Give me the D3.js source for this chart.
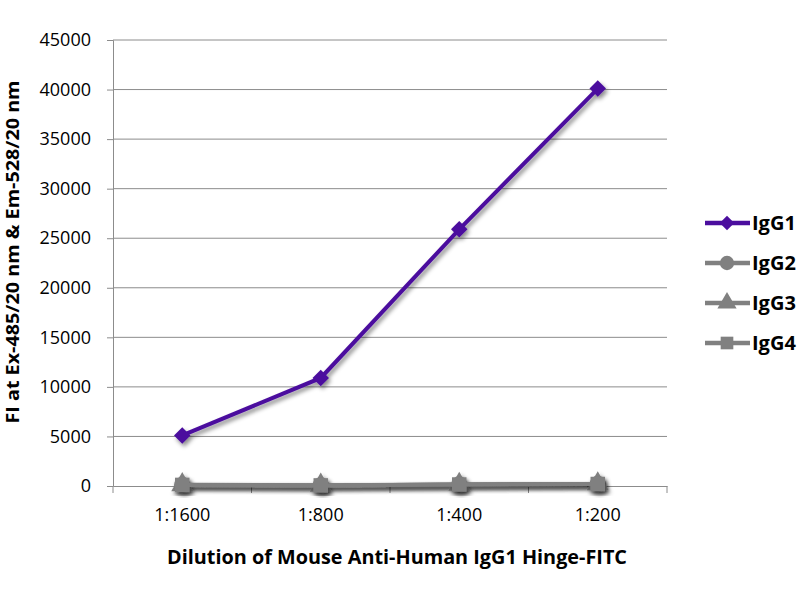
<!DOCTYPE html>
<html lang="en">
<head>
<meta charset="UTF-8">
<title>IgG1 Hinge-FITC dilution</title>
<script src="https://d3js.org/d3.v7.min.js"></script>
<style>
    body { margin: 0; background: #fff; }
    svg { font-family: "Open Sans", "DejaVu Sans", sans-serif; }
</style>
</head>
<body>
<svg width="800" height="600"></svg>
<script>
const dilutions = ["1:1600", "1:800", "1:400", "1:200"];
const igg1 = [5100, 10900, 25900, 40100];
const igg2 = [100, 60, 150, 200];
const igg3 = [120, 70, 160, 210];
const igg4 = [110, 60, 150, 200];
const yTicks = [0, 5000, 10000, 15000, 20000, 25000, 30000, 35000, 40000, 45000];

const series = [
    { name: "IgG1", values: igg1, color: "#4b0e9e", shape: "diamond" },
    { name: "IgG2", values: igg2, color: "#808080", shape: "circle" },
    { name: "IgG3", values: igg3, color: "#808080", shape: "triangle" },
    { name: "IgG4", values: igg4, color: "#808080", shape: "square" }
];

const svg = d3.select("svg");
const plotLeft = 113, plotRight = 667, plotTop = 40, plotBottom = 486;

const x = d3.scaleBand().domain(dilutions).range([plotLeft, plotRight]);
const y = d3.scaleLinear().domain([0, 45000]).range([plotBottom, plotTop]);

// soft drop shadow like the original
const defs = svg.append("defs");
const f = defs.append("filter").attr("id", "shadow")
    .attr("x", "-20%").attr("y", "-20%").attr("width", "140%").attr("height", "140%");
f.append("feDropShadow").attr("dx", 2).attr("dy", 3).attr("stdDeviation", 2)
    .attr("flood-color", "#000").attr("flood-opacity", 0.45);

// gridlines
svg.append("g")
    .selectAll("line")
    .data(yTicks.slice(1))
    .join("line")
        .attr("x1", plotLeft).attr("x2", plotRight)
        .attr("y1", d => y(d)).attr("y2", d => y(d))
        .attr("stroke", "#8c8c8c").attr("stroke-width", 1);

// y axis
const yAxis = svg.append("g")
    .attr("transform", `translate(${plotLeft},0)`)
    .call(d3.axisLeft(y).tickValues(yTicks).tickSize(6).tickPadding(16).tickFormat(d3.format("d")));
yAxis.select(".domain").attr("stroke", "#8c8c8c");
yAxis.selectAll(".tick line").attr("stroke", "#8c8c8c");
yAxis.selectAll(".tick text").attr("font-size", 18).attr("fill", "#000")
    .attr("font-family", "Open Sans, DejaVu Sans, sans-serif");

// x axis
const xAxis = svg.append("g")
    .attr("transform", `translate(0,${plotBottom})`)
    .call(d3.axisBottom(x).tickSize(0).tickPadding(22));
xAxis.select(".domain").attr("stroke", "#8c8c8c");
xAxis.selectAll(".tick text").attr("font-size", 18).attr("fill", "#000")
    .attr("font-family", "Open Sans, DejaVu Sans, sans-serif");
svg.append("g")
    .selectAll("line")
    .data([...dilutions.map(d => x(d)), plotRight])
    .join("line")
        .attr("x1", d => d).attr("x2", d => d)
        .attr("y1", plotBottom).attr("y2", plotBottom + 7)
        .attr("stroke", "#8c8c8c");

const cx = d => x(d) + x.bandwidth() / 2;

function marker(g, shape, color, size) {
    let p;
    if (shape === "diamond") {
        p = g.append("path")
            .attr("d", d3.symbol().type(d3.symbolSquare).size(size * 0.65))
            .attr("transform", "rotate(45)");
    } else {
        const sym = { circle: d3.symbolCircle, triangle: d3.symbolTriangle, square: d3.symbolSquare }[shape];
        p = g.append("path").attr("d", d3.symbol().type(sym).size(size));
    }
    p.attr("fill", color);
}

const line = d3.line().x((d, i) => cx(dilutions[i])).y(d => y(d));

// draw gray series first, IgG1 on top
const order = [1, 2, 3, 0];
order.forEach(k => {
    const s = series[k];
    const g = svg.append("g").attr("filter", "url(#shadow)");
    g.append("path")
        .datum(s.values)
        .attr("d", line)
        .attr("fill", "none")
        .attr("stroke", s.color)
        .attr("stroke-width", 4);
    s.values.forEach((v, i) => {
        const m = g.append("g").attr("transform", `translate(${cx(dilutions[i])},${y(v)})`);
        marker(m, s.shape, s.color, 210);
    });
});

// legend
const legend = svg.append("g");
series.forEach((s, i) => {
    const ly = 223 + i * 40;
    const g = legend.append("g").attr("transform", `translate(0,${ly})`);
    g.append("line")
        .attr("x1", 705).attr("x2", 750)
        .attr("stroke", s.color).attr("stroke-width", 4.5);
    const m = g.append("g").attr("transform", "translate(727,0)");
    marker(m, s.shape, s.color, 160);
    g.append("text")
        .attr("x", 752).attr("y", 0).attr("dy", "0.36em")
        .attr("font-size", 20).attr("font-weight", "bold")
        .text(s.name);
});

// axis titles
svg.append("text")
    .attr("x", 397).attr("y", 564)
    .attr("text-anchor", "middle")
    .attr("font-size", 19).attr("font-weight", "bold")
    .attr("textLength", 460).attr("lengthAdjust", "spacingAndGlyphs")
    .text("Dilution of Mouse Anti-Human IgG1 Hinge-FITC");

svg.append("text")
    .attr("transform", "translate(19,252) rotate(-90)")
    .attr("text-anchor", "middle")
    .attr("font-size", 17).attr("font-weight", "bold")
    .attr("textLength", 343).attr("lengthAdjust", "spacingAndGlyphs")
    .text("FI at Ex-485/20 nm & Em-528/20 nm");
</script>
</body>
</html>
